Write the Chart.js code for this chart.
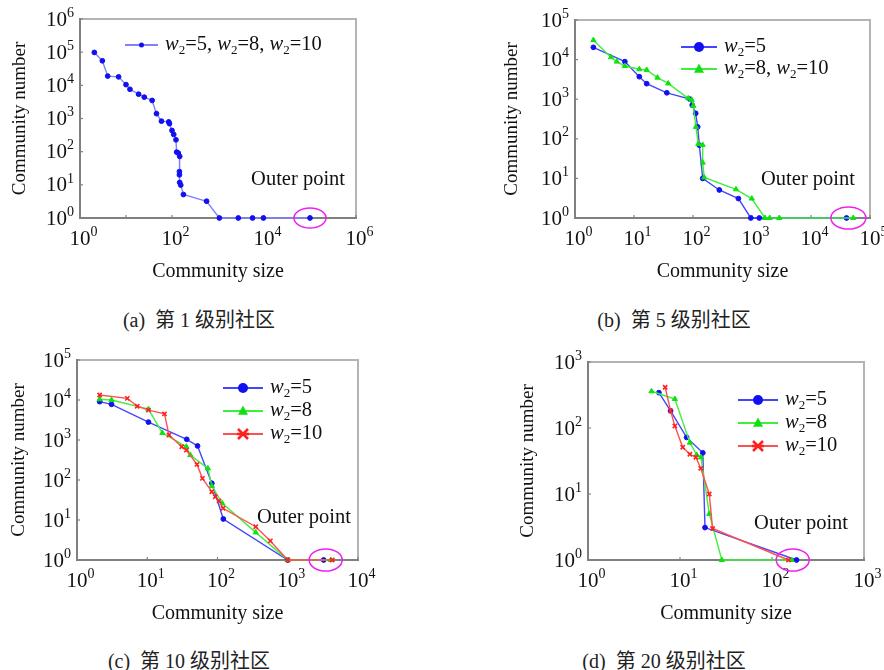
<!DOCTYPE html>
<html>
<head>
<meta charset="utf-8">
<script src="https://cdn.jsdelivr.net/npm/chart.js@4.4.1/dist/chart.umd.min.js"></script>
<style>
body { margin: 0; background: #fff; }
#wrap { position: relative; width: 884px; height: 670px; overflow: hidden; background: #fff; }
.panel { position: absolute; }
.cap { position: absolute; font-family: "Liberation Serif", "Noto Sans CJK SC", serif; font-size: 20px; color: #222; white-space: nowrap; transform: translate(-50%, -50%); }
</style>
</head>
<body>
<div id="wrap">
  <div class="panel" style="left:0;top:0;width:440px;height:300px"><canvas id="chartA"></canvas></div>
  <div class="panel" style="left:440px;top:0;width:444px;height:300px"><canvas id="chartB"></canvas></div>
  <div class="panel" style="left:0;top:340px;width:440px;height:300px"><canvas id="chartC"></canvas></div>
  <div class="panel" style="left:440px;top:340px;width:444px;height:300px"><canvas id="chartD"></canvas></div>
  <div class="cap" style="left:199px;top:318px">(a)&nbsp; 第 1 级别社区</div>
  <div class="cap" style="left:674px;top:318px">(b)&nbsp; 第 5 级别社区</div>
  <div class="cap" style="left:189px;top:659px">(c)&nbsp; 第 10 级别社区</div>
  <div class="cap" style="left:664px;top:659px">(d)&nbsp; 第 20 级别社区</div>
</div>
<script>
// ---- data (community size vs community number) ----
// (a) level 1, all w2 identical
const aSize  = [2.05, 3.06, 4.0, 6.9, 10, 12.2, 18.8, 25, 37, 46, 59, 85, 88, 100, 109, 122, 126, 137, 147, 145, 145, 147, 155, 177, 565, 1070, 2760, 5640, 9700, 100000];
const aCount = [98000, 55000, 19000, 18000, 10500, 7600, 5400, 4400, 3500, 1400, 830, 790, 700, 435, 330, 228, 97, 91, 72, 25, 20, 11.8, 9.8, 5.1, 3.2, 1, 1, 1, 1, 1];

// (b) level 5
const bSize5   = [2.05, 7.0, 12.3, 16.4, 36, 89, 97, 111, 120, 128, 146, 279, 588, 955, 1330, 40000];
const bCount5  = [20400, 8900, 3700, 2470, 1450, 1000, 710, 440, 200, 69, 10, 5.1, 3.1, 1, 1, 1];
const bSize8   = [2.05, 4.07, 5.1, 7.0, 12.3, 16.4, 25, 38, 83, 95, 101, 112, 123, 146, 146, 155, 535, 990, 1660, 2000, 2900, 52000];
const bCount8  = [31000, 11500, 8900, 6900, 5700, 5500, 3500, 2500, 1050, 960, 680, 200, 74, 70, 25, 10.6, 5.3, 3.1, 1, 1, 1, 1];

// (c) level 10
const cSize5   = [2.1, 3.1, 10.4, 36.5, 52, 83, 121, 1000, 3250];
const cCount5  = [9100, 7800, 2800, 1040, 710, 83, 10.6, 1, 1];
const cSize8   = [2.1, 3.1, 10.4, 16.4, 36, 41, 73, 83, 117, 350, 1000, 4100];
const cCount8  = [10400, 10000, 5900, 1500, 680, 420, 195, 71, 26, 4.9, 1, 1];
const cSize10  = [2.1, 5.2, 7.2, 10.4, 17.6, 20.4, 31, 36, 51, 61, 83, 93, 105, 120, 350, 565, 1000, 4300];
const cCount10 = [13300, 11000, 7000, 5600, 4500, 1330, 680, 560, 245, 110, 51, 38, 30, 19.6, 6.8, 3.0, 1, 1];

// (d) level 20
const dSize5   = [5.9, 7.9, 11.8, 17.7, 18.7, 185];
const dCount5  = [343, 182, 72, 42, 3.1, 1];
const dSize8   = [4.9, 8.8, 12.8, 15.2, 16.9, 20.8, 28.5, 163];
const dCount8  = [360, 275, 60, 39, 36, 5.0, 1, 1];
const dSize10  = [6.9, 7.9, 8.8, 10.7, 12.8, 14.9, 16.8, 20.8, 22.6, 151];
const dCount10 = [414, 182, 107, 51, 40, 36, 24.5, 10, 3.0, 1];

const serif = '"Liberation Serif", "Times New Roman", serif';

function pts(xs, ys) {
    return xs.map((x, i) => ({ x: x, y: ys[i] }));
}

function series(label, xs, ys, color, lineColor, style, order) {
    return {
        label: label,
        data: pts(xs, ys),
        showLine: true,
        borderColor: lineColor,
        borderWidth: 1.4,
        pointBackgroundColor: color,
        pointBorderColor: color,
        pointStyle: style,
        pointRadius: style === 'circle' ? 2.4 : 3,
        pointBorderWidth: style === 'crossRot' ? 1.6 : 1,
        order: order,
        clip: false
    };
}

// w_2 -> italic w with subscript 2
function drawRich(ctx, text, x, y, size) {
    const parts = text.split('w_2');
    ctx.textAlign = 'left';
    ctx.textBaseline = 'middle';
    ctx.fillStyle = '#111';
    parts.forEach((p, i) => {
        if (i > 0) {
            ctx.font = `italic ${size}px ${serif}`;
            ctx.fillText('w', x, y);
            x += ctx.measureText('w').width;
            ctx.font = `${Math.round(size * 0.62)}px ${serif}`;
            ctx.fillText('2', x, y + size * 0.28);
            x += ctx.measureText('2').width;
        }
        ctx.font = `${size}px ${serif}`;
        ctx.fillText(p, x, y);
        x += ctx.measureText(p).width;
    });
}

// "10" with a raised exponent; anchor 'center' puts "10" centred on x, 'right' right-aligns the whole label
function drawPow(ctx, exp, x, y, anchor) {
    ctx.textBaseline = 'middle';
    ctx.textAlign = 'left';
    ctx.fillStyle = '#111';
    ctx.font = `21px ${serif}`;
    const wBase = ctx.measureText('10').width;
    ctx.font = `14px ${serif}`;
    const wExp = ctx.measureText(String(exp)).width;
    const x0 = anchor === 'center' ? x - wBase / 2 : x - wBase - wExp;
    ctx.font = `21px ${serif}`;
    ctx.fillText('10', x0, y);
    ctx.font = `14px ${serif}`;
    ctx.fillText(String(exp), x0 + wBase, y - 7);
}

function drawMarker(ctx, style, x, y, r, color) {
    ctx.fillStyle = color;
    ctx.strokeStyle = color;
    ctx.beginPath();
    if (style === 'circle') {
        ctx.arc(x, y, r, 0, Math.PI * 2);
        ctx.fill();
    } else if (style === 'triangle') {
        ctx.moveTo(x, y - r * 1.1);
        ctx.lineTo(x + r, y + r * 0.75);
        ctx.lineTo(x - r, y + r * 0.75);
        ctx.closePath();
        ctx.fill();
    } else {
        ctx.lineWidth = 2.5;
        ctx.moveTo(x - r, y - r); ctx.lineTo(x + r, y + r);
        ctx.moveTo(x + r, y - r); ctx.lineTo(x - r, y + r);
        ctx.moveTo(x - r * 1.2, y); ctx.lineTo(x + r * 1.2, y);
        ctx.stroke();
    }
}

const decor = {
    id: 'decor',
    beforeDatasetsDraw(chart, args, opts) {
        const { ctx, chartArea: a, scales: { x, y } } = chart;
        ctx.save();
        ctx.strokeStyle = '#b4b4b4';
        ctx.lineWidth = 2;
        ctx.beginPath();
        ctx.moveTo(a.left, a.top);
        ctx.lineTo(a.right, a.top);
        ctx.lineTo(a.right, a.bottom);
        ctx.stroke();
        ctx.strokeStyle = '#808080';
        ctx.beginPath();
        ctx.moveTo(a.left, a.top - 1);
        ctx.lineTo(a.left, a.bottom);
        ctx.lineTo(a.right + 1, a.bottom);
        ctx.stroke();
        // inner tick marks and power-of-ten labels
        ctx.lineWidth = 1.2;
        const xMax = Math.round(Math.log10(x.max));
        for (let e = 0; e <= xMax; e++) {
            const px = x.getPixelForValue(Math.pow(10, e));
            ctx.beginPath();
            ctx.moveTo(px, a.bottom);
            ctx.lineTo(px, a.bottom - 3);
            ctx.stroke();
            if (e % opts.xStep === 0) drawPow(ctx, e, px, a.bottom + 21, 'center');
        }
        const yMax = Math.round(Math.log10(y.max));
        for (let e = 0; e <= yMax; e++) {
            const py = y.getPixelForValue(Math.pow(10, e));
            ctx.beginPath();
            ctx.moveTo(a.left, py);
            ctx.lineTo(a.left + 3, py);
            ctx.stroke();
            drawPow(ctx, e, a.left - 6, py + 1, 'right');
        }
        ctx.restore();
    },
    afterDatasetsDraw(chart, args, opts) {
        const { ctx, chartArea: a, scales: { x, y } } = chart;
        ctx.save();
        // outer point ring
        const o = opts.outer;
        ctx.strokeStyle = '#f020f0';
        ctx.lineWidth = 1.5;
        ctx.beginPath();
        ctx.ellipse(x.getPixelForValue(o.x), y.getPixelForValue(1), o.rx, o.ry, 0, 0, Math.PI * 2);
        ctx.stroke();
        // outer point label
        ctx.fillStyle = '#111';
        ctx.font = `20.5px ${serif}`;
        ctx.textAlign = 'center';
        ctx.textBaseline = 'middle';
        ctx.fillText('Outer point', x.getPixelForValue(o.tx), y.getPixelForValue(o.ty));
        // legend inside plot
        const lg = opts.legend;
        chart.data.datasets.forEach((ds, i) => {
            const ly = a.top + lg.dy + i * lg.gap;
            const lx = a.left + lg.dx;
            ctx.strokeStyle = ds.borderColor;
            ctx.lineWidth = 2;
            ctx.beginPath();
            ctx.moveTo(lx, ly);
            ctx.lineTo(lx + lg.len, ly);
            ctx.stroke();
            drawMarker(ctx, ds.pointStyle, lx + lg.len / 2, ly, lg.r, ds.pointBackgroundColor);
            drawRich(ctx, ds.label, lx + lg.len + 7, ly, 20.5);
        });
        ctx.restore();
    }
};

// area: chart area in canvas pixels; tx: x-title centre, ty: y-title centre
function makeChart(id, w, area, xMax, yMax, datasets, decorOpts) {
    const h = 300;
    const halfY = 19 * 1.2 / 2;
    const halfX = 20 * 1.2 / 2;
    const padLeft = area.ty - halfY;
    const yWidth = area.l - padLeft;
    const xHeight = area.tx + halfX - area.b;
    const axis = (max, title, isX) => ({
        type: 'logarithmic',
        min: 1,
        max: max,
        border: { display: false },
        grid: { display: false },
        ticks: { display: false },
        afterFit: s => {
            if (isX) s.height = xHeight; else s.width = yWidth;
        },
        title: {
            display: true,
            text: title,
            color: '#111',
            padding: { top: 0, bottom: 0 },
            font: { family: serif, size: isX ? 20 : 19 }
        }
    });
    const canvas = document.getElementById(id);
    canvas.width = w;
    canvas.height = h;
    return new Chart(canvas.getContext('2d'), {
        type: 'scatter',
        data: { datasets: datasets },
        options: {
            responsive: false,
            animation: false,
            layout: { padding: { left: padLeft, top: area.t, right: w - area.r, bottom: h - (area.tx + halfX) } },
            plugins: { legend: { display: false }, tooltip: { enabled: false }, decor: decorOpts },
            scales: {
                x: axis(xMax, 'Community size', true),
                y: axis(yMax, 'Community number', false)
            }
        },
        plugins: [decor]
    });
}

const blue = '#1010f0', blueLine = '#4545ff';
const green = '#10e010', greenLine = '#40ee40';
const red = '#ff2020', redLine = '#ff5050';

makeChart('chartA', 440, { l: 80, t: 19, r: 356, b: 218, tx: 272, ty: 20 }, 1e6, 1e6,
    [series('w_2=5, w_2=8, w_2=10', aSize, aCount, blue, '#8080ff', 'circle', 0)],
    { xStep: 2, outer: { x: 100000, rx: 16, ry: 10, tx: 55000, ty: 14 }, legend: { dx: 45, dy: 26, gap: 22, len: 33, r: 2.5 } });

makeChart('chartB', 444, { l: 135, t: 20, r: 430, b: 218, tx: 272, ty: 72 }, 1e5, 1e5,
    [series('w_2=5', bSize5, bCount5, blue, blueLine, 'circle', 1),
     series('w_2=8, w_2=10', bSize8, bCount8, green, greenLine, 'triangle', 0)],
    { xStep: 1, outer: { x: 43000, rx: 17.5, ry: 11, tx: 8900, ty: 9.1 }, legend: { dx: 106, dy: 27, gap: 22, len: 36, r: 5 } });

makeChart('chartC', 440, { l: 77, t: 20, r: 358, b: 220, tx: 274, ty: 19 }, 1e4, 1e5,
    [series('w_2=5', cSize5, cCount5, blue, blueLine, 'circle', 2),
     series('w_2=8', cSize8, cCount8, green, greenLine, 'triangle', 1),
     series('w_2=10', cSize10, cCount10, red, redLine, 'crossRot', 0)],
    { xStep: 1, outer: { x: 3470, rx: 16.5, ry: 11, tx: 1700, ty: 11.2 }, legend: { dx: 146, dy: 28, gap: 23, len: 40, r: 5 } });

makeChart('chartD', 444, { l: 148, t: 22, r: 424, b: 220, tx: 274, ty: 88 }, 1e3, 1e3,
    [series('w_2=5', dSize5, dCount5, blue, blueLine, 'circle', 2),
     series('w_2=8', dSize8, dCount8, green, greenLine, 'triangle', 1),
     series('w_2=10', dSize10, dCount10, red, redLine, 'crossRot', 0)],
    { xStep: 1, outer: { x: 168, rx: 16.5, ry: 11, tx: 207, ty: 3.5 }, legend: { dx: 150, dy: 38, gap: 23, len: 40, r: 5 } });
</script>
</body>
</html>
